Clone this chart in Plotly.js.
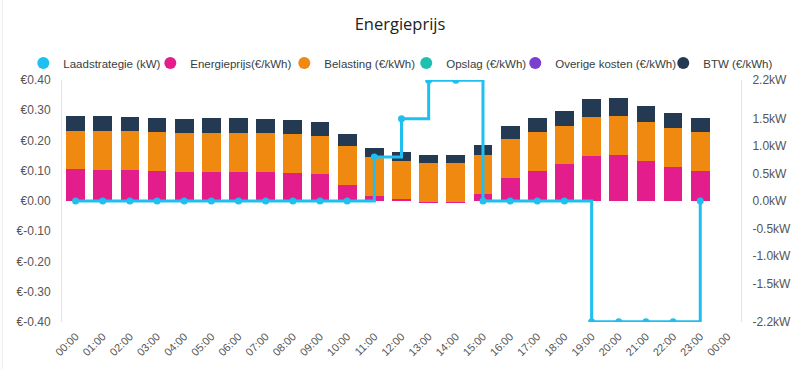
<!DOCTYPE html>
<html>
<head>
<meta charset="utf-8">
<script src="https://cdn.plot.ly/plotly-3.0.1.min.js"></script>
<style>
html,body{margin:0;padding:0;background:#fff;}
#chart{width:800px;height:369px;}
</style>
</head>
<body>
<div id="chart"></div>
<script>
var hours = [0,1,2,3,4,5,6,7,8,9,10,11,12,13,14,15,16,17,18,19,20,21,22,23];
var tickLabels = ["00:00","01:00","02:00","03:00","04:00","05:00","06:00","07:00","08:00","09:00","10:00","11:00","12:00","13:00","14:00","15:00","16:00","17:00","18:00","19:00","20:00","21:00","22:00","23:00","00:00"];
var laadstrategie = [0,0,0,0,0,0,0,0,0,0,0,0.8,1.5,2.2,2.2,0,0,0,0,-2.2,-2.2,-2.2,-2.2,0];
var energieprijs = [0.105,0.104,0.103,0.099,0.096,0.096,0.097,0.096,0.093,0.088,0.054,0.015,0.007,-0.004,-0.004,0.024,0.077,0.099,0.121,0.149,0.152,0.132,0.113,0.099];
var belasting = [0.128,0.128,0.128,0.129,0.128,0.129,0.128,0.128,0.129,0.127,0.128,0.129,0.126,0.128,0.128,0.129,0.128,0.128,0.128,0.130,0.129,0.129,0.128,0.128];
var opslag = [0,0,0,0,0,0,0,0,0,0,0,0,0,0,0,0,0,0,0,0,0,0,0,0];
var overigeKosten = [0,0,0,0,0,0,0,0,0,0,0,0,0,0,0,0,0,0,0,0,0,0,0,0];
var btw = [0.049,0.049,0.048,0.048,0.047,0.048,0.049,0.048,0.045,0.046,0.039,0.030,0.029,0.028,0.028,0.031,0.043,0.047,0.050,0.057,0.058,0.052,0.050,0.048];
var priceTicks = [-0.4,-0.3,-0.2,-0.1,0,0.1,0.2,0.3,0.4];
var priceTickText = ["€-0.40","€-0.30","€-0.20","€-0.10","€0.00","€0.10","€0.20","€0.30","€0.40"];
var kwTicks = [-2.2,-1.5,-1.0,-0.5,0,0.5,1.0,1.5,2.2];
var kwTickText = ["-2.2kW","-1.5kW","-1.0kW","-0.5kW","0.0kW","0.5kW","1.0kW","1.5kW","2.2kW"];

var names = ["Laadstrategie (kW)","Energieprijs(€/kWh)","Belasting (€/kWh)","Opslag (€/kWh)","Overige kosten (€/kWh)","BTW (€/kWh)"];
var colors = ["#1fc0ef","#e31d8c","#f0890f","#20c0b0","#7b3ed0","#233a52"];
var legendWidths = [82,89,96,64,103,80];
var legendGroups = ["legend","legend","legend","legend2","legend2","legend2"];

function barTrace(y, i){
  return {type:"bar", x:hours, y:y, name:names[i], marker:{color:colors[i]}, width:0.69, showlegend:false, hoverinfo:"y"};
}
var data = [
  barTrace(energieprijs,1),
  barTrace(belasting,2),
  barTrace(opslag,3),
  barTrace(overigeKosten,4),
  barTrace(btw,5),
  {type:"scatter", mode:"lines+markers", x:hours, y:laadstrategie, yaxis:"y2", name:names[0],
   line:{color:colors[0], width:3, shape:"hv"}, marker:{color:colors[0], size:7}, showlegend:false}
];
for (var i=0;i<names.length;i++){
  data.push({type:"scatter", mode:"markers", x:[null], y:[null], name:names[i], legendwidth:legendWidths[i],
    legend:legendGroups[i],
    marker:{color:colors[i], size:12, symbol:"circle"}, showlegend:true, hoverinfo:"skip"});
}

var legendFont = {family:"Liberation Sans, Arial, sans-serif", size:11.5, color:"#373d3f"};
var layout = {
  width:800, height:369,
  margin:{l:62, r:57, t:80, b:47},
  paper_bgcolor:"#fff", plot_bgcolor:"#fff",
  barmode:"stack", bargap:0.3,
  font:{family:"Liberation Sans, Arial, sans-serif", size:12, color:"#555"},
  title:{text:"Energieprijs", x:0.5, xanchor:"center", y:0.935, yanchor:"middle",
         font:{family:"Open Sans, Noto Sans, sans-serif", size:16.5, color:"#222"}},
  showlegend:true,
  legend:{orientation:"h", x:-0.057, xanchor:"left", y:1.07, yanchor:"middle",
          font:legendFont, itemclick:false, traceorder:"normal", borderwidth:0, bgcolor:"rgba(0,0,0,0)"},
  legend2:{orientation:"h", x:0.507, xanchor:"left", y:1.07, yanchor:"middle",
          font:legendFont, itemclick:false, traceorder:"normal", borderwidth:0, bgcolor:"rgba(0,0,0,0)"},
  xaxis:{range:[-0.5,24.5], tickmode:"array", tickvals:[0,1,2,3,4,5,6,7,8,9,10,11,12,13,14,15,16,17,18,19,20,21,22,23,24],
         ticktext:tickLabels, tickangle:-45, showgrid:false, zeroline:false, showline:false,
         tickfont:{size:11, color:"#555"}, ticks:"", ticklabelstandoff:5},
  yaxis:{range:[-0.4,0.4], tickmode:"array", tickvals:priceTicks, ticktext:priceTickText,
         showgrid:false, zeroline:false, showline:true, linecolor:"#e3e3e3", linewidth:1,
         tickfont:{size:12, color:"#555"}, ticks:"", ticklabelstandoff:8},
  yaxis2:{range:[-2.205,2.205], overlaying:"y", side:"right", tickmode:"array", tickvals:kwTicks, ticktext:kwTickText,
          showgrid:false, zeroline:false, showline:true, linecolor:"#e3e3e3", linewidth:1,
          tickfont:{size:12, color:"#555"}, ticks:"", ticklabelstandoff:8},
  shapes:[{type:"line", xref:"paper", yref:"paper", x0:-0.088, x1:-0.088, y0:-0.2, y1:1.33, line:{color:"#ececec", width:1}, layer:"below"}]
};

Plotly.newPlot("chart", data, layout, {displayModeBar:false, responsive:false});
</script>
</body>
</html>
